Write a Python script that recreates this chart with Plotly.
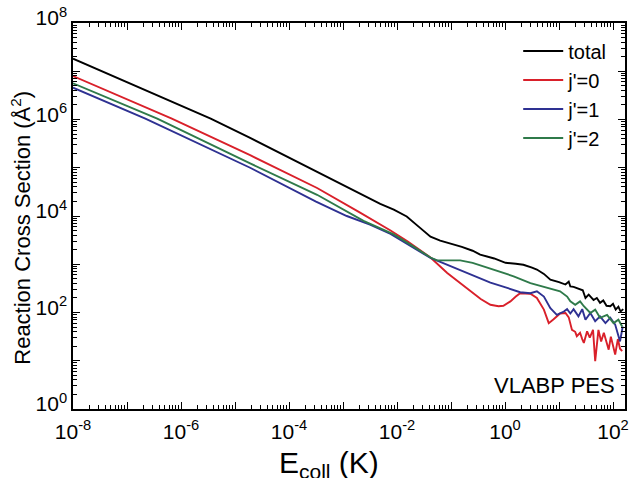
import numpy as np
import plotly.graph_objects as go

# log10 of collision energy (K) and log10 of cross section (A^2)
total_logx = [-8.00, -5.45, -4.72, -3.80, -2.86, -2.31, -2.06, -1.82, -1.60, -1.38, -1.20, -1.01, -0.80, -0.60,
              -0.46, -0.20, 0.01, 0.20, 0.34, 0.50, 0.59, 0.72, 0.84, 1.00, 1.12, 1.18, 1.21, 1.27, 1.33,
              1.39, 1.44, 1.49, 1.55, 1.60, 1.64, 1.70, 1.76, 1.82, 1.88, 1.95, 2.00, 2.05, 2.10, 2.14, 2.19]
total_logy = [7.26, 6.02, 5.62, 5.10, 4.56, 4.25, 4.13, 3.99, 3.78, 3.57, 3.49, 3.43, 3.36, 3.28,
              3.20, 3.12, 3.03, 3.01, 2.99, 2.93, 2.89, 2.80, 2.68, 2.63, 2.58, 2.64, 2.54, 2.53, 2.50,
              2.47, 2.46, 2.30, 2.37, 2.31, 2.26, 2.30, 2.20, 2.25, 2.14, 2.13, 2.18, 2.06, 2.12, 2.02, 2.07]

j0_logx = [-8.00, -6.17, -4.72, -3.48, -2.70, -2.12, -1.80, -1.51, -1.38, -1.07, -0.70, -0.45, -0.27, -0.12,
           -0.03, 0.10, 0.20, 0.28, 0.47, 0.59, 0.72, 0.81, 0.90, 1.02, 1.12, 1.18, 1.24, 1.30, 1.33,
           1.39, 1.43, 1.46, 1.52, 1.57, 1.63, 1.67, 1.73, 1.78, 1.83, 1.92, 1.96, 2.04, 2.09, 2.13, 2.17]
j0_logy = [6.90, 6.02, 5.26, 4.58, 4.08, 3.70, 3.47, 3.23, 3.14, 2.82, 2.50, 2.28, 2.16, 2.13,
           2.14, 2.23, 2.33, 2.40, 2.39, 2.30, 2.06, 1.78, 1.86, 1.98, 1.99, 1.90, 1.64, 1.60, 1.51,
           1.58, 1.45, 1.37, 1.61, 1.48, 1.64, 0.99, 1.64, 1.40, 1.58, 1.23, 1.50, 1.13, 1.45, 1.25, 1.20]

j1_logx = [-8.00, -6.66, -4.72, -3.50, -2.93, -2.50, -2.12, -1.70, -1.38, -1.20, -1.01, -0.77, -0.52, -0.27,
           0.04, 0.28, 0.47, 0.59, 0.72, 0.84, 0.96, 1.09, 1.15, 1.21, 1.27, 1.36, 1.43, 1.49, 1.58,
           1.67, 1.76, 1.86, 1.95, 2.04, 2.13, 2.18]
j1_logy = [6.66, 6.02, 5.00, 4.30, 4.00, 3.82, 3.63, 3.35, 3.13, 3.05, 2.96, 2.86, 2.74, 2.62,
           2.51, 2.42, 2.40, 2.44, 2.33, 2.09, 1.95, 2.02, 2.07, 1.98, 2.07, 1.92, 2.07, 1.85, 1.99,
           1.82, 1.92, 1.78, 1.89, 1.75, 1.40, 1.71]

j2_logx = [-8.00, -6.44, -4.72, -3.48, -2.62, -2.06, -1.70, -1.38, -1.26, -1.10, -0.83, -0.60, -0.40, -0.09,
           0.16, 0.47, 0.78, 1.02, 1.15, 1.21, 1.30, 1.39, 1.46, 1.58, 1.67, 1.76, 1.89, 2.01, 2.10, 2.17]
j2_logy = [6.75, 6.02, 5.09, 4.44, 3.90, 3.62, 3.37, 3.14, 3.08, 3.08, 3.08, 3.03, 2.96, 2.85,
           2.75, 2.61, 2.51, 2.44, 2.33, 2.23, 2.16, 2.23, 2.13, 1.99, 2.06, 1.89, 1.95, 1.78, 1.85, 1.71]

series_names = ["total", "j'=0", "j'=1", "j'=2"]
series_colors = ["#000000", "#d9202a", "#2e3192", "#2f7a4a"]

x_major_exp = list(range(-8, 3))
x_label_exp = [-8, -6, -4, -2, 0, 2]
y_major_exp = list(range(0, 9))
y_label_exp = [0, 2, 4, 6, 8]

FONT = "Arial, Liberation Sans, sans-serif"

fig = go.Figure()
data = [(total_logx, total_logy), (j0_logx, j0_logy), (j1_logx, j1_logy), (j2_logx, j2_logy)]
for (lx, ly), name, col in zip(data, series_names, series_colors):
    fig.add_trace(go.Scatter(x=10 ** np.array(lx), y=10 ** np.array(ly), mode="lines", name=name,
                             line=dict(color=col, width=1.9)))

def tick_setup(major, labeled):
    vals = [10.0 ** e for e in major]
    text = [f"10<sup>{e}</sup>" if e in labeled else "" for e in major]
    minor = [m * 10.0 ** e for e in major[:-1] for m in range(2, 10)]
    return vals, text, minor

xv, xt, xm = tick_setup(x_major_exp, x_label_exp)
xm += [m * 100.0 for m in range(2, 10)]
yv, yt, ym = tick_setup(y_major_exp, y_label_exp)

axis_common = dict(showgrid=False, zeroline=False, showline=True, linecolor="black", linewidth=1.5,
                   mirror="ticks", ticks="inside", ticklen=7, tickwidth=1.2, tickcolor="black",
                   ticklabeloverflow="allow",
                   tickfont=dict(family=FONT, size=21, color="black"))

fig.update_xaxes(type="log", range=[-8, 2.222], tickmode="array", tickvals=xv, ticktext=xt,
                 ticklabelstandoff=3,
                 minor=dict(ticks="inside", ticklen=4, tickwidth=1, tickcolor="black", tickvals=xm),
                 **axis_common)
fig.update_yaxes(type="log", range=[0, 8], tickmode="array", tickvals=yv, ticktext=yt,
                 ticklabelshift=-5,
                 minor=dict(ticks="inside", ticklen=4, tickwidth=1, tickcolor="black", tickvals=ym),
                 **axis_common)

# axis titles
fig.add_annotation(text="E<sub>coll</sub> (K)", xref="paper", yref="paper", x=(329 - 73) / 552, y=0,
                   xanchor="center", yanchor="top", yshift=-35, showarrow=False,
                   font=dict(family=FONT, size=30, color="black"))
fig.add_annotation(text="Reaction Cross Section (Å<sup>2</sup>)", xref="paper", yref="paper",
                   x=(21 - 73) / 552, y=(409.5 - 228) / 386.5, xanchor="center", yanchor="middle",
                   textangle=-90, showarrow=False, font=dict(family=FONT, size=22, color="black"))

fig.add_annotation(text="VLABP PES", xref="paper", yref="paper", x=(617 - 73) / 552, y=(409.5 - 386) / 386.5,
                   xanchor="right", yanchor="middle", showarrow=False,
                   font=dict(family=FONT, size=22, color="black"))

fig.update_layout(
    width=633, height=478,
    margin=dict(l=73, r=8, t=23, b=69, autoexpand=False),
    paper_bgcolor="white", plot_bgcolor="white",
    legend=dict(x=0.975, y=0.978, xanchor="right", yanchor="top", bgcolor="rgba(0,0,0,0)",
                font=dict(family=FONT, size=20, color="black"), itemwidth=40),
    showlegend=True,
)

fig.write_html("out.html")
